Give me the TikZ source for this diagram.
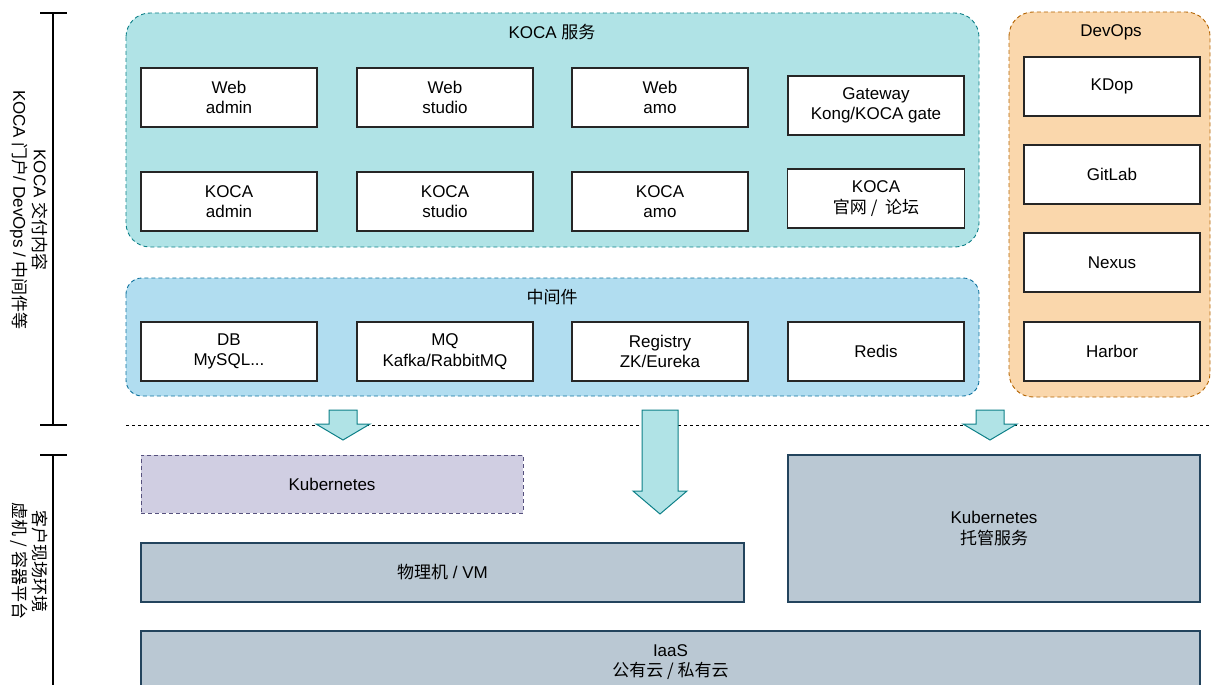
\documentclass[tikz,border=0pt]{standalone}
\usepackage{fontspec}
\setmainfont{Liberation Sans}
\newfontfamily\cjk{Noto Sans CJK SC}
\definecolor{tealfill}{HTML}{B0E3E6}
\definecolor{tealline}{HTML}{0E8088}
\definecolor{bluefill}{HTML}{B1DDF0}
\definecolor{blueline}{HTML}{10739E}
\definecolor{orangefill}{HTML}{FAD7AC}
\definecolor{orangeline}{HTML}{B46504}
\definecolor{lilacfill}{HTML}{D0CEE2}
\definecolor{lilacline}{HTML}{56517E}
\definecolor{slatefill}{HTML}{BAC8D3}
\definecolor{slateline}{HTML}{23445D}
\begin{document}
\begin{tikzpicture}[
    x=1pt, y=-1pt,
    every node/.style={font=\fontsize{17}{20.5}\selectfont, align=center, inner sep=0pt}
  ]

  \tikzset{
    caixa/.style={draw=black!85, fill=white, line width=1.2pt, minimum width=176pt, minimum height=59pt},
    grupo/.style={dash pattern=on 4pt off 3pt, line width=0.9pt, rounded corners=24pt},
    servico/.style={grupo, draw=tealline, fill=tealfill},
    meio/.style={grupo, draw=blueline, fill=bluefill, rounded corners=16pt},
    devops/.style={grupo, draw=orangeline, fill=orangefill},
    base/.style={draw=slateline, fill=slatefill, line width=1.2pt},
    seta/.style={draw=tealline, fill=tealfill, line width=1pt, line join=miter},
    marca/.style={draw=black, line width=1.2pt}
  }

  \useasboundingbox (0,0) rectangle (1211,685);

  % grupos
  \draw[servico] (126,13) rectangle (979,247);
  \node (tservico) at (552,32) {KOCA {\cjk 服务}};
  \draw[meio] (126,278) rectangle (979,396);
  \node (tmeio) at (552,297) {\cjk 中间件};
  \draw[devops] (1009,12) rectangle (1210,397);
  \node (tdevops) at (1111,32) {DevOps};

  % KOCA servico
  \node[caixa] (webadmin) at (229,97.5) {Web\\admin};
  \node[caixa] (webstudio) at (445,97.5) {Web\\studio};
  \node[caixa] (webamo) at (660,97.5) {Web\\amo};
  \node[caixa] (gateway) at (876,105.5) {Gateway\\Kong/KOCA gate};
  \node[caixa] (kadmin) at (229,201.5) {KOCA\\admin};
  \node[caixa] (kstudio) at (445,201.5) {KOCA\\studio};
  \node[caixa] (kamo) at (660,201.5) {KOCA\\amo};
  \node[caixa, minimum width=177pt] (site) at (876,198.5) {KOCA\\{\cjk 官网 /\ \ 论坛}};

  % middleware
  \node[caixa] (db) at (229,351.5) {DB\\MySQL...};
  \node[caixa] (mq) at (445,351.5) {MQ\\Kafka/RabbitMQ};
  \node[caixa] (registry) at (660,351.5) {Registry\\ZK/Eureka};
  \node[caixa] (redis) at (876,351.5) {Redis};

  % devops
  \node[caixa] (kdop) at (1112,86.5) {KDop};
  \node[caixa] (gitlab) at (1112,174.5) {GitLab};
  \node[caixa] (nexus) at (1112,262.5) {Nexus};
  \node[caixa] (harbor) at (1112,351.5) {Harbor};

  % separacao
  \draw[dashed, line width=1pt] (126,425) -- (1211,425);

  % setas
  \draw[seta] (329,410) -- (357,410) -- (357,424) -- (370,424) -- (343,440) -- (316,424) -- (329,424) -- cycle;
  \draw[seta] (642,410) -- (678,410) -- (678,491) -- (687,491) -- (660,514) -- (633,491) -- (642,491) -- cycle;
  \draw[seta] (976,410) -- (1004,410) -- (1004,424) -- (1017,424) -- (990,440) -- (963,424) -- (976,424) -- cycle;

  % cliente
  \node[draw=lilacline, fill=lilacfill, line width=1pt, dash pattern=on 4pt off 3pt,
        minimum width=382pt, minimum height=58pt] (k8s) at (332,484) {Kubernetes};
  \node[base, minimum width=603pt, minimum height=59pt] (vm) at (442.5,572.5) {{\cjk 物理机} / VM};
  \node[base, minimum width=412pt, minimum height=147pt] (k8sman) at (994,528.5) {Kubernetes\\{\cjk 托管服务}};
  \node[base, minimum width=1059pt, minimum height=62pt] (iaas) at (670.5,662) {IaaS\\{\cjk 公有云 / 私有云}};

  % marcas laterais
  \draw[marca] (40,13) -- (67,13) (53,13) -- (53,425) (40,425) -- (67,425);
  \draw[marca] (40,455) -- (67,455) (53,455) -- (53,690);
  \node[rotate=-90] (lbltop) at (29,210) {KOCA {\cjk 交付内容}\\KOCA {\cjk 门户}/ DevOps / {\cjk 中间件等}};
  \node[rotate=-90] (lblbot) at (29,561) {\cjk 客户现场环境\\\cjk 虚机 / 容器平台};

\end{tikzpicture}
\end{document}
